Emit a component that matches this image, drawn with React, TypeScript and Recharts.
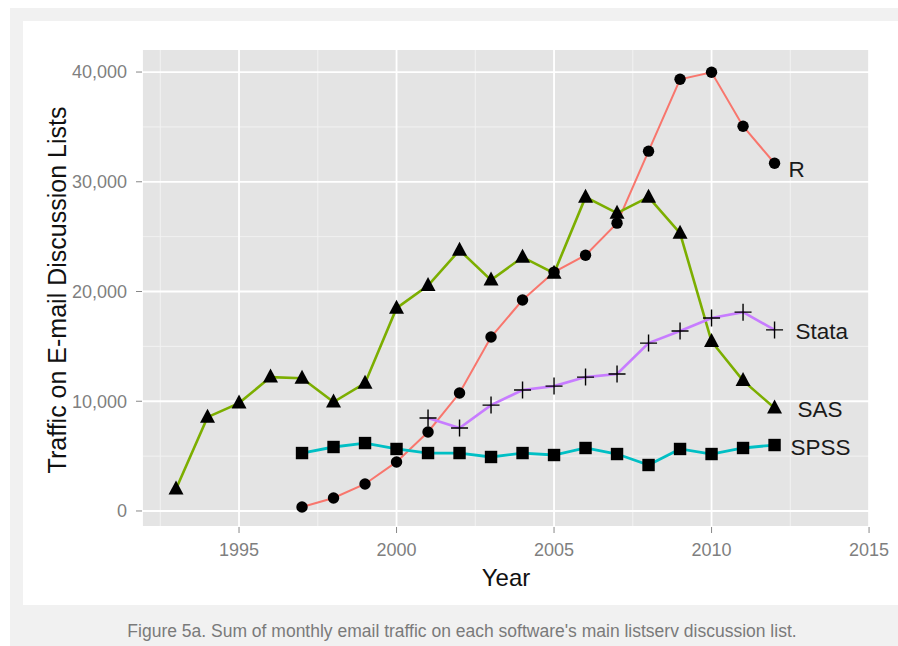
import { LineChart, Line, XAxis, YAxis, CartesianGrid, Label, LabelList } from 'recharts';

// yearly sums of monthly list traffic
const years = [1993, 1994, 1995, 1996, 1997, 1998, 1999, 2000, 2001, 2002, 2003, 2004, 2005, 2006, 2007, 2008, 2009, 2010, 2011, 2012];
const rTraffic = [null, null, null, null, 360, 1180, 2460, 4470, 7200, 10750, 15850, 19220, 21770, 23310, 26230, 32790, 39340, 39980, 35060, 31690];
const sasTraffic = [2000, 8550, 9830, 12200, 12100, 9930, 11650, 18480, 20540, 23770, 21040, 23130, 21670, 28600, 27140, 28600, 25320, 15450, 11880, 9380];
const spssTraffic = [null, null, null, null, 5280, 5830, 6190, 5650, 5280, 5280, 4920, 5280, 5100, 5740, 5190, 4190, 5650, 5190, 5740, 6010];
const stataTraffic = [null, null, null, null, null, null, null, null, 8470, 7560, 9650, 11020, 11380, 12200, 12480, 15300, 16400, 17580, 18120, 16500];

const xTicks = [1995, 2000, 2005, 2010, 2015];
const xMinor = [1992.5, 1997.5, 2002.5, 2007.5, 2012.5];
const yTicks = [0, 10000, 20000, 30000, 40000];
const yMinor = [5000, 15000, 25000, 35000];

const chartData = years.map((year, i) => ({
  year,
  R: rTraffic[i],
  SAS: sasTraffic[i],
  SPSS: spssTraffic[i],
  Stata: stataTraffic[i],
}));

const FONT = "'Liberation Sans', Arial, sans-serif";
const last = years.length - 1;

const circleDot = (p: any) => {
  if (p.cy == null || p.value == null) return <g key={`c-${p.index}`} />;
  return <circle key={`c-${p.index}`} cx={p.cx} cy={p.cy} r={5.7} fill="#000" />;
};

const triangleDot = (p: any) => {
  if (p.cy == null || p.value == null) return <g key={`t-${p.index}`} />;
  const { cx, cy } = p;
  return <polygon key={`t-${p.index}`} points={`${cx},${cy - 8.5} ${cx - 7.5},${cy + 5.5} ${cx + 7.5},${cy + 5.5}`} fill="#000" />;
};

const squareDot = (p: any) => {
  if (p.cy == null || p.value == null) return <g key={`s-${p.index}`} />;
  return <rect key={`s-${p.index}`} x={p.cx - 6.2} y={p.cy - 6.2} width={12.4} height={12.4} fill="#000" />;
};

const plusDot = (p: any) => {
  if (p.cy == null || p.value == null) return <g key={`p-${p.index}`} />;
  const { cx, cy } = p;
  return (
    <path key={`p-${p.index}`} d={`M${cx - 8.5},${cy}H${cx + 8.5}M${cx},${cy - 8.5}V${cy + 8.5}`} stroke="#000" strokeWidth={1.4} fill="none" />
  );
};

const endLabel = (name: string, dx: number, dy: number) => (props: any) => {
  if (props.index !== last) return null;
  return (
    <text x={props.x + dx} y={props.y + dy} fontSize={22.5} fontFamily={FONT} fill="#1a1a1a" dominantBaseline="central">
      {name}
    </text>
  );
};

const formatThousands = (v: number) => v.toLocaleString('en-US');

export default function App() {
  return (
    <div style={{ position: 'absolute', left: 0, top: 0, width: 898, height: 646, background: '#fff', fontFamily: FONT, overflow: 'hidden' }}>
      <div style={{ position: 'absolute', left: 10, top: 8, right: 0, bottom: 0, background: '#f1f1f1' }} />
      <div style={{ position: 'absolute', left: 23, top: 21, right: 0, height: 584, background: '#fff' }} />
      <div style={{ position: 'absolute', left: 0, top: 0 }}>
        <LineChart width={898} height={646} data={chartData} margin={{ top: 49, right: 28, left: 62, bottom: 79 }}>
          <CartesianGrid fill="#e4e4e4" stroke="#f2f2f2" strokeWidth={1} horizontalValues={yMinor} verticalValues={xMinor} />
          <CartesianGrid stroke="#ffffff" strokeWidth={1.8} />
          <XAxis
            dataKey="year"
            type="number"
            domain={[1991.92, 2015.03]}
            allowDataOverflow
            ticks={xTicks}
            interval={0}
            axisLine={false}
            tickLine={{ stroke: '#888' }}
            tickSize={6}
            tickMargin={10}
            height={40}
            tick={{ fill: '#7f7f7f', fontSize: 18, fontFamily: FONT }}
          >
            <Label
              content={(props: any) => {
                const vb = props.viewBox || { x: 142, y: 527, width: 728, height: 40 };
                return (
                  <text x={vb.x + vb.width / 2} y={vb.y + vb.height + 10} textAnchor="middle" dominantBaseline="central" fontSize={24} fontFamily={FONT} fill="#111">
                    Year
                  </text>
                );
              }}
            />
          </XAxis>
          <YAxis
            type="number"
            domain={[-1460, 42100]}
            allowDataOverflow
            ticks={yTicks}
            interval={0}
            axisLine={false}
            tickLine={{ stroke: '#888' }}
            tickSize={6}
            tickMargin={9}
            width={80}
            tickFormatter={formatThousands}
            tick={{ fill: '#7f7f7f', fontSize: 18, fontFamily: FONT }}
          >
            <Label
              content={(props: any) => {
                const vb = props.viewBox || { x: 62, y: 49, width: 80, height: 478 };
                const cx = vb.x - 5;
                const cy = vb.y + vb.height / 2 + 2;
                return (
                  <text x={cx} y={cy} transform={`rotate(-90, ${cx}, ${cy})`} textAnchor="middle" dominantBaseline="central" fontSize={25} fontFamily={FONT} fill="#111">
                    Traffic on E-mail Discussion Lists
                  </text>
                );
              }}
            />
          </YAxis>
          <Line dataKey="R" type="linear" stroke="#F8766D" strokeWidth={2} dot={circleDot} activeDot={false} isAnimationActive={false}>
            <LabelList dataKey="R" content={endLabel('R', 14, 6)} />
          </Line>
          <Line dataKey="SAS" type="linear" stroke="#7CAE00" strokeWidth={2.6} dot={triangleDot} activeDot={false} isAnimationActive={false}>
            <LabelList dataKey="SAS" content={endLabel('SAS', 23, 1)} />
          </Line>
          <Line dataKey="SPSS" type="linear" stroke="#00BFC4" strokeWidth={2.8} dot={squareDot} activeDot={false} isAnimationActive={false}>
            <LabelList dataKey="SPSS" content={endLabel('SPSS', 16, 2)} />
          </Line>
          <Line dataKey="Stata" type="linear" stroke="#C77CFF" strokeWidth={2.6} dot={plusDot} activeDot={false} isAnimationActive={false}>
            <LabelList dataKey="Stata" content={endLabel('Stata', 21, 2)} />
          </Line>
        </LineChart>
      </div>
      <div style={{ position: 'absolute', left: 0, width: 924, top: 621, textAlign: 'center', fontSize: 17.5, color: '#7a7a7a', fontFamily: FONT, lineHeight: '20px' }}>
        Figure 5a. Sum of monthly email traffic on each software's main listserv discussion list.
      </div>
    </div>
  );
}
